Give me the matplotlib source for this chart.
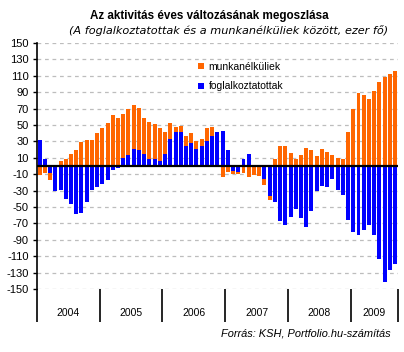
import matplotlib
matplotlib.use("Agg")
import matplotlib.pyplot as plt
import matplotlib.transforms as mtransforms
from matplotlib.patches import Patch
import numpy as np

plt.rcParams['font.family'] = ['Liberation Sans', 'DejaVu Sans']

title = "Az aktivitás éves változásának megoszlása"
subtitle = "(A foglalkoztatottak és a munkanélküliek között, ezer fő)"
source = "Forrás: KSH, Portfolio.hu-számítás"

years = ["2004", "2005", "2006", "2007", "2008", "2009"]
months_per_year = [12, 12, 12, 12, 12, 9]

label_unemp = "munkanélküliek"
label_emp = "foglalkoztatottak"

# foglalkoztatottak (blue)
employed = [32, 8, -8, -30, -29, -40, -46, -58, -57, -44, -29, -25,
            -22, -17, -4.5, -3, 10, 14, 21, 19, 15, 8, 9, 6.5,
            15, 33.5, 42, 42, 25, 28.5, 21, 25, 30, 37, 42, 43,
            20, -5.7, -7, 9, 15, 0, 0, -15.5, -36, -43.7, -67, -72,
            -62, -52, -63, -74, -55, -31, -24, -25, -15.5, -29, -35, -66,
            -80.6, -84, -78, -72, -84, -113, -141.6, -127, -120]

# munkanélküliek (orange)
unemployed = [-11, -8, -8.6, 0, 6.5, 8, 15, 19, 29, 32, 32, 40,
              46, 52, 62, 58, 53, 55, 54, 52, 44, 46, 42, 39.5,
              26, 18.5, 6, 7, 12, 12, 9, 8.5, 16, 10, 0, -13,
              -7, -3.7, -2.5, -8, -14, -10.6, -12, -7.3, -5, 9, 25, 25,
              16, 9, 14, 22.5, 19, 12.6, 21, 17.5, 14, 10, 9, 41,
              70, 88.6, 87, 82, 91, 102, 108, 112, 115.5]

yticks = list(range(-150, 151, 20))

ORANGE = '#FF6600'
BLUE = '#0000FF'

emp = np.array(employed, dtype=float)
une = np.array(unemployed, dtype=float)
x = np.arange(len(emp))
same_sign = np.sign(emp) == np.sign(une)
une_bottom = np.where(same_sign, emp, 0.0)

fig = plt.figure(figsize=(4.04, 3.52), dpi=100)
W, H = 404, 352
ax = fig.add_axes([37 / W, (H - 289) / H, (397.7 - 37) / W, (289 - 43) / H])

ax.bar(x, emp, width=0.76, color=BLUE, zorder=3, linewidth=0)
ax.bar(x, une, bottom=une_bottom, width=0.76, color=ORANGE, zorder=3, linewidth=0)

ax.set_xlim(-0.5, len(emp) - 0.5)
ax.set_ylim(-150, 150)
ax.set_yticks(yticks)
ax.set_yticklabels([str(v) for v in yticks], fontsize=8)
ax.tick_params(axis='y', direction='out', length=3, width=1, pad=3, color='black')
ax.set_xticks([])
for s in ['top', 'right', 'bottom']:
    ax.spines[s].set_visible(False)
ax.spines['left'].set_linewidth(1.2)
ax.yaxis.grid(True, linestyle=(0, (3, 3)), color='#BDBDBD', linewidth=0.9, zorder=0)
ax.axhline(0, color='black', linewidth=1.6, zorder=4)

# year separators and labels
trans = mtransforms.blended_transform_factory(ax.transData, ax.transAxes)
ax_h = 289 - 43
edges = np.concatenate([[0], np.cumsum(months_per_year)]) - 0.5
ax.vlines(edges, -33 / ax_h, 0, transform=trans, color='black', linewidth=1.2, clip_on=False)
for i, yr in enumerate(years):
    ax.text((edges[i] + edges[i + 1]) / 2, -24 / ax_h, yr, transform=trans,
            ha='center', va='center', fontsize=7.5)

handles = [Patch(facecolor=ORANGE, edgecolor='none'), Patch(facecolor=BLUE, edgecolor='none')]
ax.legend(handles, [label_unemp, label_emp], loc='upper left',
          bbox_to_anchor=(198 / W, (H - 62) / H), bbox_transform=fig.transFigure,
          frameon=False, fontsize=7.5, handlelength=0.55, handleheight=0.55,
          handletextpad=0.45, labelspacing=0.9, borderpad=0, borderaxespad=0)

fig.text(209 / W, 1 - 15.5 / H, title, ha='center', va='center', fontsize=8.4, fontweight='bold')
fig.text(229 / W, 1 - 31 / H, subtitle, ha='center', va='center', fontsize=8.1, style='italic',
         family=['DejaVu Sans'])
fig.text(391 / W, 1 - 333 / H, source, ha='right', va='center', fontsize=7.9, style='italic')

fig.savefig('out.png', dpi=100)
